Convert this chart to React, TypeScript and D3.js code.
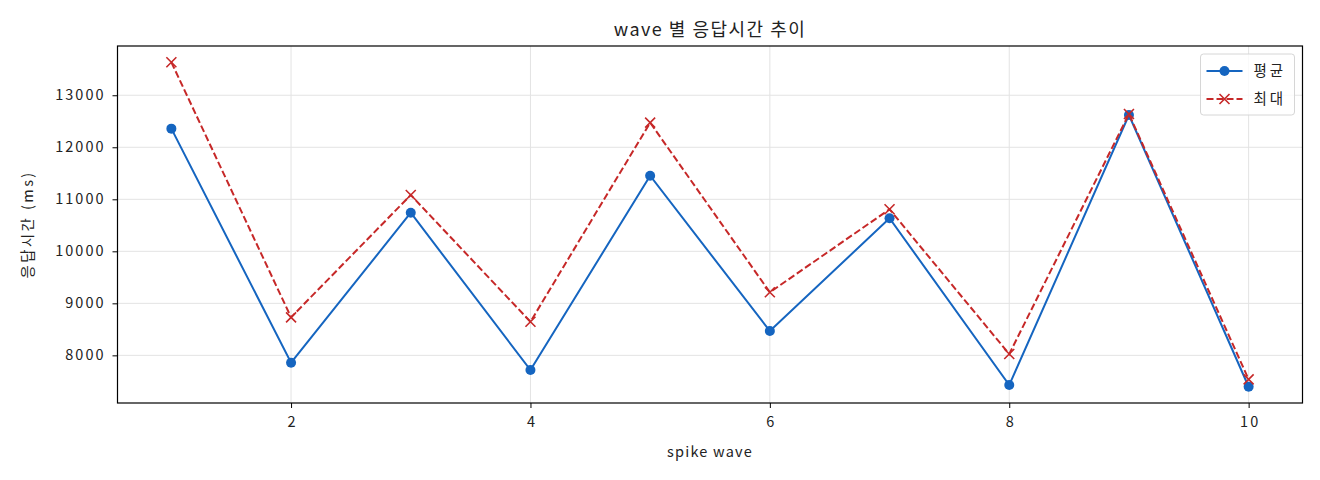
import React, { useEffect, useRef } from 'react';
import * as d3 from 'd3';

// spike wave 별 응답시간 (ms)
const waves = [1, 2, 3, 4, 5, 6, 7, 8, 9, 10];
const avgMs = [12358, 7858, 10742, 7717, 11454, 8467, 10635, 7429, 12621, 7396];
const maxMs = [13635, 8731, 11083, 8646, 12473, 9212, 10808, 8025, 12640, 7538];
const xTicks = [2, 4, 6, 8, 10];
const yTicks = [8000, 9000, 10000, 11000, 12000, 13000];

const WIDTH = 1320;
const HEIGHT = 480;
const FONT = '"Noto Sans CJK KR", "Noto Sans", sans-serif';
const BLUE = '#1565c0';
const RED = '#c62828';

const App: React.FC = () => {
  const svgRef = useRef<SVGSVGElement>(null);

  useEffect(() => {
    if (!svgRef.current) return;
    const svg = d3.select(svgRef.current);
    svg.selectAll('*').remove();

    const margin = { top: 46, right: 17.5, bottom: 77, left: 117.5 };
    const innerWidth = WIDTH - margin.left - margin.right;
    const innerHeight = HEIGHT - margin.top - margin.bottom;

    // matplotlib style 5% padding
    const xPad = (d3.max(waves)! - d3.min(waves)!) * 0.05;
    const allVals = avgMs.concat(maxMs);
    const yMin = d3.min(allVals)!;
    const yMax = d3.max(allVals)!;
    const yPad = (yMax - yMin) * 0.05;

    const xScale = d3.scaleLinear()
      .domain([d3.min(waves)! - xPad, d3.max(waves)! + xPad])
      .range([0, innerWidth]);
    const yScale = d3.scaleLinear()
      .domain([yMin - yPad, yMax + yPad])
      .range([innerHeight, 0]);

    const g = svg.append('g')
      .attr('transform', `translate(${margin.left}, ${margin.top})`);

    // grid
    g.selectAll('.gx').data(xTicks).enter().append('line')
      .attr('x1', d => xScale(d)).attr('x2', d => xScale(d))
      .attr('y1', 0).attr('y2', innerHeight)
      .attr('stroke', '#e3e3e3').attr('stroke-width', 1);
    g.selectAll('.gy').data(yTicks).enter().append('line')
      .attr('x1', 0).attr('x2', innerWidth)
      .attr('y1', d => yScale(d)).attr('y2', d => yScale(d))
      .attr('stroke', '#e3e3e3').attr('stroke-width', 1);

    // axes
    const xAxis = g.append('g')
      .attr('transform', `translate(0, ${innerHeight})`)
      .call(d3.axisBottom(xScale).tickValues(xTicks).tickFormat(d3.format('d')).tickSize(5).tickPadding(9));
    const yAxis = g.append('g')
      .call(d3.axisLeft(yScale).tickValues(yTicks).tickFormat(d3.format('d')).tickSize(5).tickPadding(7));
    [xAxis, yAxis].forEach(a => {
      a.select('.domain').remove();
      a.selectAll('line').attr('stroke', '#000').attr('stroke-width', 1);
      a.selectAll('text')
        .style('font-family', FONT)
        .style('font-size', '14.5px')
        .style('letter-spacing', '2px')
        .attr('fill', '#222');
    });
    // letter-spacing adds trailing space; recentre x tick labels
    xAxis.selectAll('text').attr('dx', '1px');

    // frame
    g.append('rect')
      .attr('x', 0).attr('y', 0)
      .attr('width', innerWidth).attr('height', innerHeight)
      .attr('fill', 'none').attr('stroke', '#000').attr('stroke-width', 1.2);

    const line = d3.line<number>()
      .x((_, i) => xScale(waves[i]))
      .y(d => yScale(d));

    // 평균
    g.append('path')
      .datum(avgMs)
      .attr('fill', 'none')
      .attr('stroke', BLUE)
      .attr('stroke-width', 2)
      .attr('d', line);
    g.selectAll('.avg').data(avgMs).enter().append('circle')
      .attr('cx', (_, i) => xScale(waves[i]))
      .attr('cy', d => yScale(d))
      .attr('r', 5)
      .attr('fill', BLUE);

    // 최대
    g.append('path')
      .datum(maxMs)
      .attr('fill', 'none')
      .attr('stroke', RED)
      .attr('stroke-width', 2)
      .attr('stroke-dasharray', '7,3')
      .attr('d', line);
    const xMark = (cx: number, cy: number, s: number) =>
      `M${cx - s},${cy - s}L${cx + s},${cy + s}M${cx - s},${cy + s}L${cx + s},${cy - s}`;
    g.selectAll('.mx').data(maxMs).enter().append('path')
      .attr('d', (d, i) => xMark(xScale(waves[i]), yScale(d), 5))
      .attr('stroke', RED)
      .attr('stroke-width', 1.6)
      .attr('fill', 'none');

    // legend
    const legend = g.append('g')
      .attr('transform', `translate(${innerWidth - 102}, 8)`);
    legend.append('rect')
      .attr('x', 0).attr('y', 0)
      .attr('width', 94).attr('height', 61)
      .attr('rx', 3)
      .attr('fill', 'rgba(255,255,255,0.8)')
      .attr('stroke', '#d6d6d6');
    legend.append('line')
      .attr('x1', 6).attr('x2', 42).attr('y1', 17).attr('y2', 17)
      .attr('stroke', BLUE).attr('stroke-width', 2);
    legend.append('circle').attr('cx', 24).attr('cy', 17).attr('r', 5).attr('fill', BLUE);
    legend.append('text')
      .attr('x', 53).attr('y', 22)
      .style('font-family', FONT).style('font-size', '14.5px')
      .style('letter-spacing', '3px')
      .attr('fill', '#222')
      .text('평균');
    legend.append('line')
      .attr('x1', 6).attr('x2', 42).attr('y1', 45).attr('y2', 45)
      .attr('stroke', RED).attr('stroke-width', 2)
      .attr('stroke-dasharray', '7,3');
    legend.append('path')
      .attr('d', xMark(24, 45, 5))
      .attr('stroke', RED).attr('stroke-width', 1.6);
    legend.append('text')
      .attr('x', 53).attr('y', 50)
      .style('font-family', FONT).style('font-size', '14.5px')
      .style('letter-spacing', '3px')
      .attr('fill', '#222')
      .text('최대');

    // labels
    svg.append('text')
      .attr('x', margin.left + innerWidth / 2)
      .attr('y', 36)
      .attr('text-anchor', 'middle')
      .style('font-family', FONT)
      .style('font-size', '18px')
      .style('letter-spacing', '1.5px')
      .attr('fill', '#222')
      .text('wave 별 응답시간 추이');
    svg.append('text')
      .attr('x', margin.left + innerWidth / 2)
      .attr('y', 457)
      .attr('text-anchor', 'middle')
      .style('font-family', FONT)
      .style('font-size', '14.5px')
      .style('letter-spacing', '1.2px')
      .attr('fill', '#222')
      .text('spike wave');
    svg.append('text')
      .attr('transform', `translate(33, ${margin.top + innerHeight / 2}) rotate(-90)`)
      .attr('text-anchor', 'middle')
      .style('font-family', FONT)
      .style('font-size', '14.5px')
      .style('letter-spacing', '2.4px')
      .attr('fill', '#222')
      .text('응답시간 (ms)');
  }, []);

  return (
    <div style={{ width: WIDTH, height: HEIGHT, margin: -8, background: '#fff' }}>
      <svg ref={svgRef} width={WIDTH} height={HEIGHT} style={{ display: 'block' }} />
    </div>
  );
};

export default App;
